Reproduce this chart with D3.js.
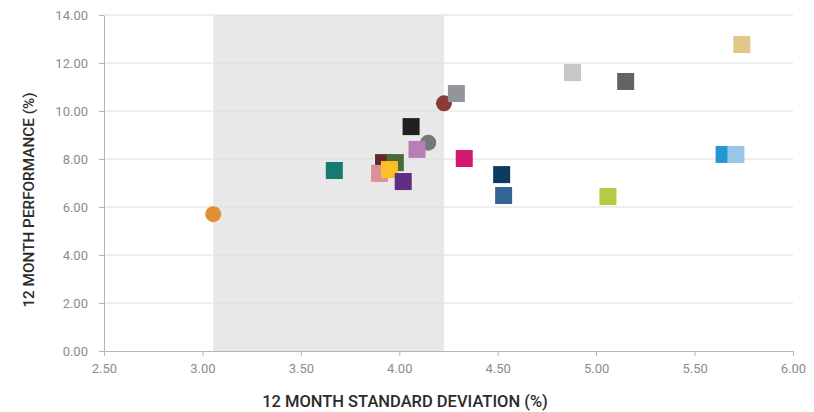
<!DOCTYPE html>
<html>
<head>
<meta charset="utf-8">
<script src="https://cdn.jsdelivr.net/npm/d3@7"></script>
<style>
  html, body { margin: 0; padding: 0; background: #ffffff; }
  svg { display: block; }
  .tick text { font-family: Roboto, "DejaVu Sans Condensed", sans-serif; }
</style>
</head>
<body>
<svg id="chart" width="814" height="412"></svg>
<script>
// Axis ticks
const xTicks = [2.5, 3.0, 3.5, 4.0, 4.5, 5.0, 5.5, 6.0];
const yTicks = [0, 2, 4, 6, 8, 10, 12, 14];

// Funds (square markers): 12m standard deviation, 12m performance, colour
const fundStdDev = [3.67, 3.92, 3.98, 3.90, 3.95, 4.02, 4.06, 4.09, 4.29, 4.33,
                    4.52, 4.53, 4.88, 5.06, 5.15, 5.65, 5.71, 5.74];
const fundPerf   = [7.52, 7.85, 7.85, 7.40, 7.56, 7.06, 9.35, 8.40, 10.73, 8.02,
                    7.35, 6.48, 11.60, 6.44, 11.23, 8.19, 8.19, 12.77];
const fundColors = ["#167b6e", "#622a2e", "#4a6b37", "#d9909b", "#fdbf26", "#5f2d84",
                    "#231f20", "#b77fb6", "#939598", "#d2176f", "#0c3a61", "#356594",
                    "#c6c7c9", "#b8c943", "#626366", "#2497cd", "#9ac6e5", "#e3c68a"];

// Peer group benchmarks (circle markers)
const peerStdDev = [3.055, 4.147, 4.227];
const peerPerf   = [5.70, 8.68, 10.32];
const peerColors = ["#e09030", "#77787b", "#8b3a3a"];

const svg = d3.select("#chart");

const x = d3.scaleLinear().domain([2.5, 6.0]).range([104, 793]);
const y = d3.scaleLinear().domain([0, 14]).range([351, 15]);

// Shaded band across the peer group's volatility range
const band = d3.extent(peerStdDev);
svg.append("rect")
  .attr("x", x(band[0]))
  .attr("y", y(14))
  .attr("width", x(band[1]) - x(band[0]))
  .attr("height", y(0) - y(14))
  .attr("fill", "#e8e8e8");

// Horizontal gridlines
svg.append("g")
  .selectAll("line")
  .data(yTicks.filter(d => d > 0))
  .join("line")
  .attr("x1", x(2.5))
  .attr("x2", x(6.0))
  .attr("y1", d => y(d))
  .attr("y2", d => y(d))
  .attr("stroke", "#dedede")
  .attr("stroke-width", 1.2);

// Axes
const xAxis = d3.axisBottom(x)
  .tickValues(xTicks)
  .tickFormat(d3.format(".2f"))
  .tickSizeInner(5)
  .tickSizeOuter(0)
  .tickPadding(8);

const yAxis = d3.axisLeft(y)
  .tickValues(yTicks)
  .tickFormat(d3.format(".2f"))
  .tickSizeInner(5)
  .tickSizeOuter(0)
  .tickPadding(11);

function styleAxis(g) {
  g.select(".domain").attr("stroke", "#b5b5b5");
  g.selectAll(".tick line").attr("stroke", "#b5b5b5");
  g.selectAll(".tick text")
    .attr("fill", "#8c8c8c")
    .style("font-size", "13px");
}

svg.append("g")
  .attr("transform", `translate(0,${y(0)})`)
  .call(xAxis)
  .call(styleAxis);

svg.append("g")
  .attr("transform", `translate(${x(2.5)},0)`)
  .call(yAxis)
  .call(styleAxis);

// Circles first, squares on top
svg.append("g")
  .selectAll("circle")
  .data(peerStdDev.map((v, i) => ({ sd: v, perf: peerPerf[i], color: peerColors[i] })))
  .join("circle")
  .attr("cx", d => x(d.sd))
  .attr("cy", d => y(d.perf))
  .attr("r", 8)
  .attr("fill", d => d.color);

const size = 17;
svg.append("g")
  .selectAll("rect")
  .data(fundStdDev.map((v, i) => ({ sd: v, perf: fundPerf[i], color: fundColors[i] })))
  .join("rect")
  .attr("x", d => x(d.sd) - size / 2)
  .attr("y", d => y(d.perf) - size / 2)
  .attr("width", size)
  .attr("height", size)
  .attr("fill", d => d.color);

// Axis titles
svg.append("text")
  .attr("x", 405)
  .attr("y", 407)
  .attr("text-anchor", "middle")
  .attr("fill", "#2b2b2b")
  .style("font-family", "Roboto, sans-serif")
  .style("font-weight", 500)
  .style("font-size", "16.5px")
  .text("12 MONTH STANDARD DEVIATION (%)");

svg.append("text")
  .attr("transform", "translate(33.5,200) rotate(-90)")
  .attr("text-anchor", "middle")
  .attr("fill", "#2b2b2b")
  .style("font-family", "Roboto, sans-serif")
  .style("font-weight", 500)
  .style("font-size", "15.3px")
  .text("12 MONTH PERFORMANCE (%)");
</script>
</body>
</html>
